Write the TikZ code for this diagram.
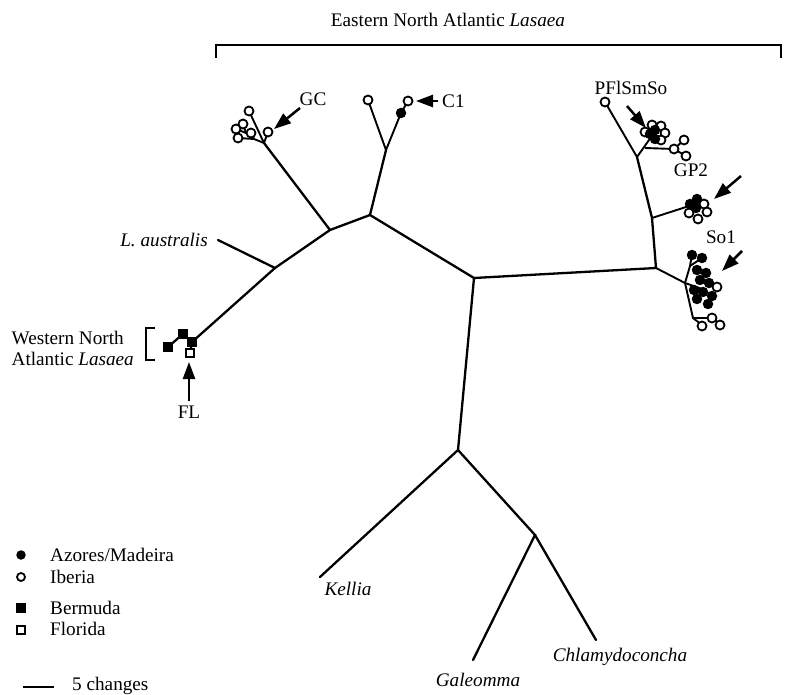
\documentclass[tikz,border=0pt]{standalone}
\usepackage{fontspec}
\setmainfont{Liberation Serif}
\usetikzlibrary{arrows.meta}
\begin{document}
\begin{tikzpicture}[x=1pt,y=-1pt,
  br/.style={line width=2.3pt,line cap=round},
  thin/.style={line width=1.9pt},
  oc/.style={circle,draw,fill=white,inner sep=0pt,minimum size=9pt,line width=1.8pt},
  fc/.style={circle,fill=black,inner sep=0pt,minimum size=10.5pt},
  fsq/.style={rectangle,fill=black,inner sep=0pt,minimum size=9.5pt},
  osq/.style={rectangle,draw,fill=white,inner sep=0pt,minimum size=8.5pt,line width=1.7pt},
  pt/.style={arrows={-Triangle[length=17pt,width=12pt]},line width=2.5pt},
  lab/.style={font=\fontsize{19.2}{21}\selectfont,inner sep=0pt},
  ilab/.style={font=\fontsize{19.2}{21}\selectfont\itshape,inner sep=0pt}]
\useasboundingbox (0,0) rectangle (785,695);

% ---- internal coordinates
\coordinate (c0) at (474,278);
\coordinate (n1) at (370,215);
\coordinate (n2) at (330,230);
\coordinate (n3) at (275,268);
\coordinate (la) at (218,240);
\coordinate (c1j) at (386,150);
\coordinate (gcj) at (264,143);
\coordinate (gk) at (254,139);
\coordinate (gm) at (246,133);
\coordinate (r1) at (656,268);
\coordinate (r2) at (652,218);
\coordinate (r3) at (637,157);
\coordinate (pj) at (649,140);
\coordinate (pk) at (645,148);
\coordinate (gpj) at (686,207);
\coordinate (sj) at (685,283);
\coordinate (su) at (690,266);
\coordinate (sd) at (693,318);
\coordinate (d1) at (458,450);
\coordinate (d2) at (535,535);
\coordinate (kel) at (320,577);
\coordinate (gal) at (473,660);
\coordinate (chl) at (596,640);
\coordinate (w1) at (168,347);
\coordinate (w2) at (183,334);
\coordinate (w3) at (192,342);
\coordinate (w4) at (190,353);

% ---- branches
\draw[br] (c0) -- (n1) -- (n2) -- (n3) -- (w3);
\draw[br] (la) -- (n3);
\draw[br] (n1) -- (c1j);
\draw[br] (n2) -- (gcj);
\draw[br] (c0) -- (r1) -- (r2) -- (r3);
\draw[br] (c0) -- (d1) -- (kel);
\draw[br] (d1) -- (d2) -- (gal);
\draw[br] (d2) -- (chl);
\draw[br] (w1) -- (w2) -- (w3) -- (w4);

% C1 clade
\draw[thin] (c1j) -- (368,100);
\draw[thin] (c1j) -- (401,113) -- (408,101);
\node[oc] (c1a) at (368,100) {};
\node[oc] (c1b) at (408,101) {};
\node[fc] (c1f) at (401,113) {};

% GC clade
\draw[thin] (gcj) -- (249,111);
\draw[thin] (gcj) -- (268,132);
\draw[thin] (gcj) -- (gk) -- (238,138);
\draw[thin] (gk) -- (gm) -- (243,124);
\draw[thin] (gm) -- (236,129);
\draw[thin] (gk) -- (251,133);
\node[oc] (gA) at (249,111) {};
\node[oc] (gF) at (268,132) {};
\node[oc] (gB) at (243,124) {};
\node[oc] (gC) at (236,129) {};
\node[oc] (gD) at (238,138) {};
\node[oc] (gE) at (251,133) {};

% PFlSmSo clade
\draw[thin] (r3) -- (605,102);
\draw[thin] (r3) -- (pj) -- (652,132);
\draw[thin] (pk) -- (674,149) -- (684,140);
\draw[thin] (674,149) -- (686,156);
\node[oc] (p0) at (605,102) {};
\node[oc] (pt1) at (674,149) {};
\node[oc] (pt2) at (684,140) {};
\node[oc] (pt3) at (686,156) {};
\node[oc] (pa) at (645,132) {};
\node[oc] (pb) at (652,125) {};
\node[oc] (pc) at (661,126) {};
\node[oc] (pd) at (665,133) {};
\node[oc] (pe) at (661,140) {};
\node[fc] (pf) at (650,134) {};
\node[fc] (pg) at (655,139) {};
\node[fc] (ph) at (655,130) {};

% GP2 clade
\draw[thin] (r2) -- (gpj);
\node[oc] (ga) at (689,213) {};
\node[oc] (gb) at (704,204) {};
\node[oc] (gc) at (707,212) {};
\node[oc] (gd) at (698,219) {};
\node[fc] (ge) at (690,204) {};
\node[fc] (gf) at (697,199) {};
\node[fc] (gg) at (696,208) {};

% So1 clade
\draw[thin] (r1) -- (sj) -- (su) -- (692,255);
\draw[thin] (su) -- (702,258);
\draw[thin] (sj) -- (sd) -- (702,325);
\draw[thin] (sd) -- (712,318) -- (720,324);
\draw[thin] (sj) -- (705,290);
\node[oc] (so1) at (717,287) {};
\node[oc] (so2) at (712,318) {};
\node[oc] (so3) at (720,325) {};
\node[oc] (so4) at (702,326) {};
\node[fc] (s1) at (692,255) {};
\node[fc] (s2) at (702,258) {};
\node[fc] (s3) at (697,270) {};
\node[fc] (s4) at (706,273) {};
\node[fc] (s5) at (700,280) {};
\node[fc] (s6) at (709,283) {};
\node[fc] (s7) at (694,290) {};
\node[fc] (s8) at (703,292) {};
\node[fc] (s9) at (697,299) {};
\node[fc] (s10) at (708,304) {};
\node[fc] (s11) at (712,296) {};

% Western squares
\node[fsq] (sq1) at (w1) {};
\node[fsq] (sq2) at (w2) {};
\node[fsq] (sq3) at (w3) {};
\node[osq] (sq4) at (w4) {};

% ---- labels
\node[lab] (east) at (448,20) {Eastern North Atlantic \textit{Lasaea}};
\draw[line width=2pt] (216,58) -- (216,45) -- (781,45) -- (781,58);

\node[ilab,anchor=east] (laus) at (208,240) {L. australis};

\node[lab,align=left,anchor=east] (west) at (134,348) {Western North\\Atlantic \textit{Lasaea}};
\draw[line width=2pt] (155,328) -- (146,328) -- (146,360) -- (155,360);

\node[lab] (fl) at (189,412) {FL};
\coordinate (flt) at (189,401);
\coordinate (flh) at (189,362);
\draw[pt] (flt) -- (flh);

\node[lab] (gcl) at (313,99) {GC};
\coordinate (gct) at (300,108);
\coordinate (gch) at (274,129);
\draw[pt] (gct) -- (gch);

\node[lab,anchor=west] (c1l) at (442,101) {C1};
\coordinate (c1t) at (438,101);
\coordinate (c1h) at (416,101);
\draw[pt] (c1t) -- (c1h);

\node[lab] (pfl) at (631,88) {PFlSmSo};
\coordinate (pft) at (627,106);
\coordinate (pfh) at (646,128);
\draw[pt] (pft) -- (pfh);

\node[lab] (gp2l) at (691,170) {GP2};
\coordinate (gpt) at (741,176);
\coordinate (gph) at (714,199);
\draw[pt] (gpt) -- (gph);

\node[lab] (so1l) at (721,237) {So1};
\coordinate (st) at (742,251);
\coordinate (sh) at (722,271);
\draw[pt] (st) -- (sh);

\node[ilab] (kl) at (348,589) {Kellia};
\node[ilab] (gl) at (478,680) {Galeomma};
\node[ilab] (cl) at (620,657) {Chlamydoconcha};

% ---- legend
\node[fc,minimum size=9.5pt] (lg1) at (21,555) {};
\node[lab,anchor=west] (lt1) at (50,555) {Azores/Madeira};
\node[oc,minimum size=8pt] (lg2) at (21,577) {};
\node[lab,anchor=west] (lt2) at (50,577) {Iberia};
\node[fsq,minimum size=9.5pt] (lg3) at (21,608) {};
\node[lab,anchor=west] (lt3) at (50,608) {Bermuda};
\node[osq,minimum size=8.5pt] (lg4) at (21,630) {};
\node[lab,anchor=west] (lt4) at (50,629) {Florida};
\coordinate (sb1) at (23,687);
\coordinate (sb2) at (54,687);
\draw[line width=2.2pt] (sb1) -- (sb2);
\node[lab,anchor=west] (lt5) at (72,686) {5 changes};
\end{tikzpicture}
\end{document}
